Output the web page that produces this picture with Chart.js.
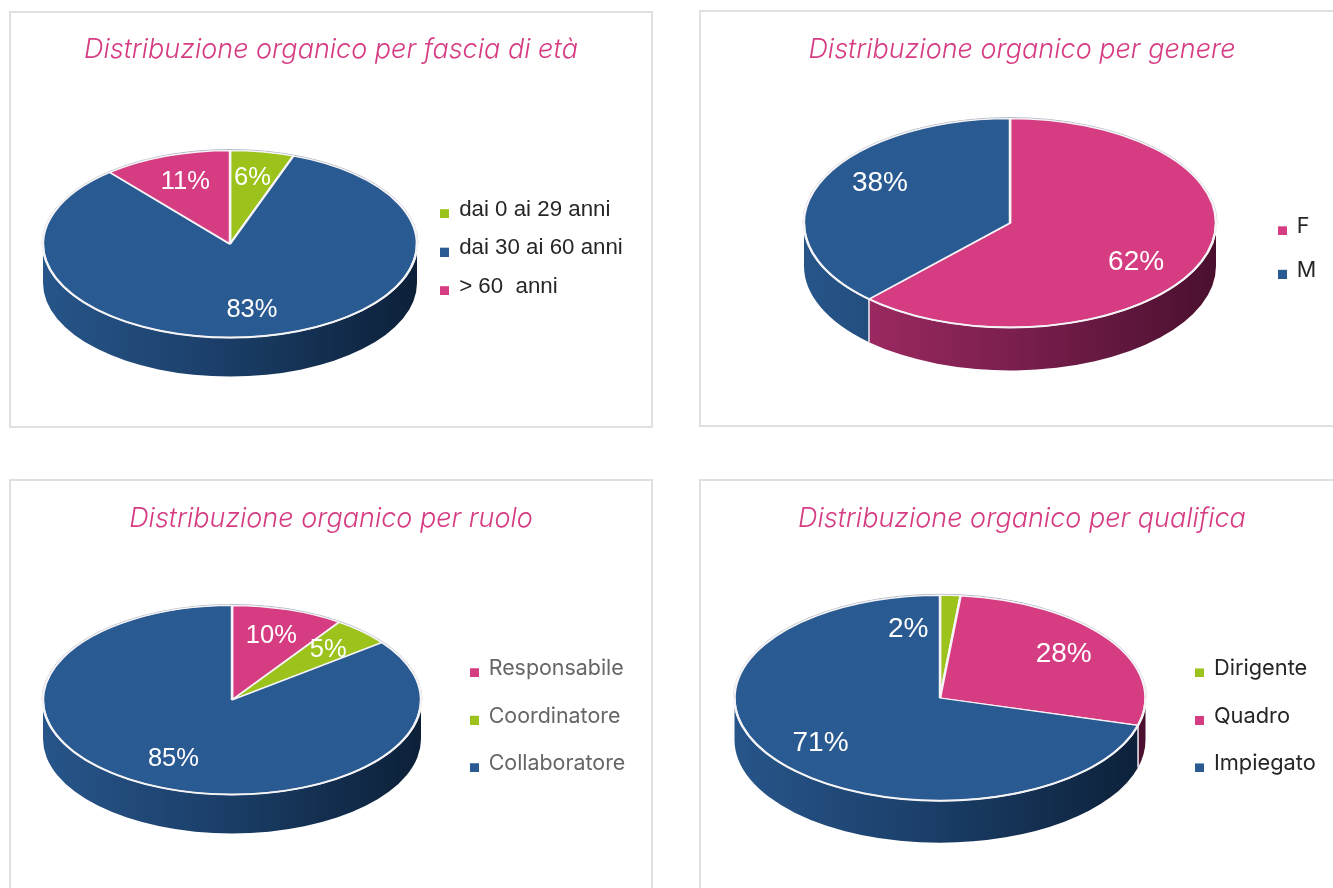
<!DOCTYPE html>
<html>
<head>
<meta charset="utf-8">
<title>Distribuzione organico</title>
<script src="https://cdn.jsdelivr.net/npm/chart.js@4/dist/chart.umd.min.js"></script>
<style>
    html, body { margin: 0; padding: 0; background: #fff; overflow: hidden; width: 1333px; height: 888px; }
    .card { position: absolute; box-sizing: border-box; border: 2px solid #e0e0e0; background: #fff; }
    .card canvas { position: absolute; left: 0; top: 0; }
</style>
</head>
<body>
<div class="card" id="card-eta" style="left:9px;top:11px;width:644px;height:417px"><canvas id="chart-eta"></canvas></div>
<div class="card" id="card-genere" style="left:699px;top:10px;width:646px;height:417px"><canvas id="chart-genere"></canvas></div>
<div class="card" id="card-ruolo" style="left:9px;top:479px;width:644px;height:430px"><canvas id="chart-ruolo"></canvas></div>
<div class="card" id="card-qualifica" style="left:699px;top:479px;width:646px;height:430px"><canvas id="chart-qualifica"></canvas></div>

<script>
// Data
const etaLabels = ['dai 0 ai 29 anni', 'dai 30 ai 60 anni', '> 60  anni'];
const etaValues = [5.5, 83.4, 11.1];

const genereLabels = ['F', 'M'];
const genereValues = [62, 38];

const ruoloLabels = ['Responsabile', 'Coordinatore', 'Collaboratore'];
const ruoloValues = [9.6, 5.0, 85.4];

const qualificaLabels = ['Dirigente', 'Quadro', 'Impiegato'];
const qualificaValues = [1.6, 27.7, 70.7];

// Colours
const GREEN = '#9bc31c';
const BLUE = '#2a5a92';
const PINK = '#d63c82';
const SIDE_COLORS = {
    [GREEN]: ['#7a9c15', '#5a7510', '#3c5009'],
    [BLUE]: ['#27558a', '#1a3d66', '#0c2038'],
    [PINK]: ['#a82d68', '#7b1f4f', '#4a102e']
};

// Flattened pie with an extruded side, drawn from the arcs Chart.js computed
const pie3dPlugin = {
    id: 'pie3d',
    afterLayout(chart, args, opts) {
        const legend = chart.legend;
        const padding = legend.options.labels.padding;
        legend.left = opts.legendX - padding;
        legend.top = opts.legendY - padding;
        legend.right = chart.width;
        legend.bottom = chart.height;
        legend.width = legend.right - legend.left;
        legend.height = legend.bottom - legend.top;

        // the title stays centred on the card, not on the padded pie area
        chart.titleBlock.left = 0;
        chart.titleBlock.right = chart.width;
        chart.titleBlock.width = chart.width;
    },
    beforeDatasetDraw(chart, args, opts) {
        const ctx = chart.ctx;
        const arcs = args.meta.data;
        const first = arcs[0];
        const cx = first.x, cy = first.y, r = first.outerRadius;
        const ry = r * opts.tilt;

        // faint outline round the back of the disc
        ctx.save();
        ctx.strokeStyle = '#b4bcc6';
        ctx.lineWidth = 1;
        ctx.beginPath();
        ctx.ellipse(cx, cy, r + 1, ry + 1, 0, Math.PI, Math.PI * 2);
        ctx.stroke();
        ctx.restore();

        arcs.forEach(arc => {
            const from = Math.max(arc.startAngle, 0);
            const to = Math.min(arc.endAngle, Math.PI);
            if (to <= from) return;
            const stops = SIDE_COLORS[arc.options.backgroundColor];
            const gradient = ctx.createLinearGradient(cx - r, 0, cx + r, 0);
            gradient.addColorStop(0, stops[0]);
            gradient.addColorStop(0.5, stops[1]);
            gradient.addColorStop(1, stops[2]);
            ctx.beginPath();
            ctx.ellipse(cx, cy, r, ry, 0, from, to);
            ctx.ellipse(cx, cy + opts.depth, r, ry, 0, to, from, true);
            ctx.closePath();
            ctx.fillStyle = gradient;
            ctx.fill();
        });

        // white seams where two slices meet on the front side
        arcs.forEach(arc => {
            const angle = arc.endAngle;
            if (angle <= 0 || angle >= Math.PI) return;
            const x = cx + r * Math.cos(angle);
            const y = cy + ry * Math.sin(angle);
            ctx.beginPath();
            ctx.moveTo(x, y);
            ctx.lineTo(x, y + opts.depth);
            ctx.strokeStyle = '#f4eef2';
            ctx.lineWidth = 1.5;
            ctx.stroke();
        });

        ctx.save();
        ctx.translate(cx, cy);
        ctx.scale(1, opts.tilt);
        ctx.translate(-cx, -cy);
    },
    afterDatasetDraw(chart, args, opts) {
        const ctx = chart.ctx;
        ctx.restore();

        // the front rim is a brighter, thicker line than the slice borders
        const first = args.meta.data[0];
        ctx.save();
        ctx.strokeStyle = '#f4f4f6';
        ctx.lineWidth = 2;
        ctx.beginPath();
        ctx.ellipse(first.x, first.y, first.outerRadius, first.outerRadius * opts.tilt, 0, 0, Math.PI);
        ctx.stroke();
        ctx.restore();
    },
    afterDatasetsDraw(chart, args, opts) {
        const ctx = chart.ctx;
        const meta = chart.getDatasetMeta(0);
        const values = chart.data.datasets[0].data;
        ctx.save();
        ctx.font = opts.labelSize + 'px "Liberation Sans"';
        ctx.fillStyle = '#fff';
        ctx.textAlign = 'center';
        ctx.textBaseline = 'middle';
        meta.data.forEach((arc, i) => {
            const mid = (arc.startAngle + arc.endAngle) / 2;
            const nudge = opts.labelNudge[i] || [0, 0];
            const x = arc.x + 0.7 * arc.outerRadius * Math.cos(mid) + nudge[0];
            const y = arc.y + 0.7 * arc.outerRadius * opts.tilt * Math.sin(mid) + nudge[1];
            ctx.fillText(Math.round(values[i]) + '%', x, y);
        });
        ctx.restore();
    }
};

// Small square sitting below the text's middle, as in the original legend
function legendMarker(color) {
    const marker = document.createElement('canvas');
    marker.width = 9;
    marker.height = 17;
    const c = marker.getContext('2d');
    c.fillStyle = color;
    c.fillRect(0, 8, 9, 9);
    return marker;
}

function buildLegendLabels(chart) {
    const items = Chart.overrides.doughnut.plugins.legend.labels.generateLabels(chart);
    return items.map(item => Object.assign(item, { pointStyle: legendMarker(item.fillStyle) }));
}

function drawPie(canvasId, title, labels, values, colors, look) {
    const canvas = document.getElementById(canvasId);
    const width = canvas.parentElement.clientWidth;
    const height = canvas.parentElement.clientHeight;
    canvas.width = width;
    canvas.height = height;
    const titleHeight = look.titleSize * 1.2 + look.titleTop;
    const side = Math.min(look.cx, width - look.cx);

    new Chart(canvas, {
        type: 'pie',
        data: {
            labels: labels,
            datasets: [{
                data: values,
                backgroundColor: colors,
                borderColor: '#f6f4f6',
                borderWidth: 2.5,
                radius: look.radius
            }]
        },
        plugins: [pie3dPlugin],
        options: {
            responsive: false,
            animation: false,
            layout: {
                padding: {
                    left: look.cx - side,
                    right: width - look.cx - side,
                    top: 0,
                    bottom: height - (2 * look.cy - titleHeight)
                }
            },
            plugins: {
                tooltip: { enabled: false },
                title: {
                    display: true,
                    text: title,
                    color: PINK,
                    font: { family: 'Inter', size: look.titleSize, style: 'italic', weight: '300', lineHeight: 1.2 },
                    padding: { top: look.titleTop, bottom: 0 }
                },
                legend: {
                    position: 'chartArea',
                    align: 'start',
                    labels: {
                        usePointStyle: true,
                        boxWidth: 7,
                        padding: look.legendGap - look.legendSize,
                        color: look.legendColor,
                        font: { family: look.legendFont, size: look.legendSize },
                        generateLabels: buildLegendLabels
                    }
                },
                pie3d: {
                    tilt: look.tilt || 0.5,
                    depth: look.depth,
                    legendX: look.legendX,
                    legendY: look.legendY,
                    labelSize: look.labelSize,
                    labelNudge: look.labelNudge
                }
            }
        }
    });
}

drawPie('chart-eta', 'Distribuzione organico per fascia di età', etaLabels, etaValues, [GREEN, BLUE, PINK], {
    cx: 219, cy: 231, radius: 187, depth: 39,
    titleSize: 27, titleTop: 21, labelSize: 25.5, labelNudge: [[0, -2], [-1, 2], [0, -1]],
    legendX: 430, legendY: 185.5, legendGap: 38.5, legendSize: 22.3,
    legendFont: '"Liberation Sans"', legendColor: '#262626'
});

drawPie('chart-genere', 'Distribuzione organico per genere', genereLabels, genereValues, [PINK, BLUE], {
    cx: 309, cy: 211, radius: 206, depth: 43, tilt: 0.507,
    titleSize: 27, titleTop: 22, labelSize: 28, labelNudge: [[-8, 12], [4, -13]],
    legendX: 578, legendY: 204, legendGap: 43.5, legendSize: 21.6,
    legendFont: 'Inter', legendColor: '#262626'
});

drawPie('chart-ruolo', 'Distribuzione organico per ruolo', ruoloLabels, ruoloValues, [PINK, GREEN, BLUE], {
    cx: 221, cy: 219, radius: 189, depth: 39,
    titleSize: 27, titleTop: 22, labelSize: 25.5, labelNudge: [[0, -1], [5, -2], [0, 0]],
    legendX: 460, legendY: 177, legendGap: 47.5, legendSize: 21.4,
    legendFont: 'Inter', legendColor: '#666666'
});

drawPie('chart-qualifica', 'Distribuzione organico per qualifica', qualificaLabels, qualificaValues, [GREEN, PINK, BLUE], {
    cx: 239, cy: 217, radius: 205.5, depth: 42,
    titleSize: 27, titleTop: 22, labelSize: 28, labelNudge: [[-39, 3], [5, -3], [-5, 2]],
    legendX: 495, legendY: 177, legendGap: 47.5, legendSize: 21.8,
    legendFont: 'Inter', legendColor: '#262626'
});
</script>
</body>
</html>
